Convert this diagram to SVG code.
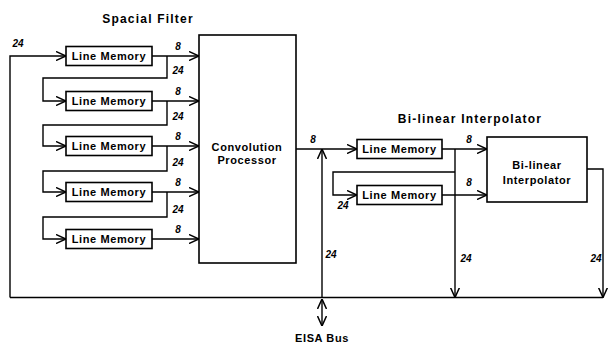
<svg xmlns="http://www.w3.org/2000/svg" width="608" height="347" viewBox="0 0 608 347">
<style>
.box{fill:#fff;stroke:#000;stroke-width:1.6}
.ln{fill:none;stroke:#000;stroke-width:1.4}
.t{font-family:"Liberation Sans",Arial,sans-serif;font-size:11px;font-weight:bold;letter-spacing:0.6px;text-anchor:middle;fill:#000}
.h{font-family:"Liberation Sans",Arial,sans-serif;font-size:12px;font-weight:bold;letter-spacing:1.2px;text-anchor:middle;fill:#000}
.n{font-family:"Liberation Sans",Arial,sans-serif;font-size:10px;font-weight:bold;font-style:italic;text-anchor:middle;fill:#000}
</style>
<defs>
<marker id="a" viewBox="0 0 10 10" refX="10" refY="5" markerWidth="10" markerHeight="10" markerUnits="userSpaceOnUse" orient="auto-start-reverse">
<path d="M0,0.5 L10,5 L0,9.5" fill="none" stroke="#000" stroke-width="1.5"/>
</marker>
</defs>
<rect width="608" height="347" fill="#fff"/>
<g id="connectors">
<path class="ln" d="M10,297.5 L603,297.5"/>
<path class="ln" d="M10,297.5 L10,56 L66,56" marker-end="url(#a)"/>
<path class="ln" d="M152,56 L199,56" marker-end="url(#a)"/>
<path class="ln" d="M152,101 L199,101" marker-end="url(#a)"/>
<path class="ln" d="M152,146 L199,146" marker-end="url(#a)"/>
<path class="ln" d="M152,192 L199,192" marker-end="url(#a)"/>
<path class="ln" d="M152,239 L199,239" marker-end="url(#a)"/>
<path class="ln" d="M167,56 L167,78 L43,78 L43,101 L66,101" marker-end="url(#a)"/>
<path class="ln" d="M167,101 L167,125 L43,125 L43,146 L66,146" marker-end="url(#a)"/>
<path class="ln" d="M167,146 L167,171 L43,171 L43,192 L66,192" marker-end="url(#a)"/>
<path class="ln" d="M167,192 L167,217 L43,217 L43,239 L66,239" marker-end="url(#a)"/>
<path class="ln" d="M296,149 L357,149" marker-end="url(#a)"/>
<path class="ln" d="M322,297.5 L322,149" marker-end="url(#a)"/>
<path class="ln" d="M322,299 L322,326" marker-start="url(#a)" marker-end="url(#a)"/>
<path class="ln" d="M442,149 L487,149" marker-end="url(#a)"/>
<path class="ln" d="M455,149 L455,297.5" marker-end="url(#a)"/>
<path class="ln" d="M455,172 L333,172 L333,195 L357,195" marker-end="url(#a)"/>
<path class="ln" d="M442,195 L487,195" marker-end="url(#a)"/>
<path class="ln" d="M587,169 L603,169 L603,297.5" marker-end="url(#a)"/>
</g>
<g id="lm1"><rect class="box" x="66" y="46.5" width="86" height="19"/><text class="t" x="109" y="60">Line Memory</text></g>
<g id="lm2"><rect class="box" x="66" y="91.5" width="86" height="19"/><text class="t" x="109" y="105">Line Memory</text></g>
<g id="lm3"><rect class="box" x="66" y="136.5" width="86" height="19"/><text class="t" x="109" y="150">Line Memory</text></g>
<g id="lm4"><rect class="box" x="66" y="182.5" width="86" height="19"/><text class="t" x="109" y="196">Line Memory</text></g>
<g id="lm5"><rect class="box" x="66" y="229.5" width="86" height="19"/><text class="t" x="109" y="243">Line Memory</text></g>
<g id="conv"><rect class="box" x="199" y="35" width="97" height="228"/><text class="t" x="247" y="151">Convolution</text><text class="t" x="247" y="164">Processor</text></g>
<g id="rlm1"><rect class="box" x="357" y="139.5" width="85" height="19"/><text class="t" x="399.5" y="153">Line Memory</text></g>
<g id="rlm2"><rect class="box" x="357" y="185.5" width="85" height="19"/><text class="t" x="399.5" y="199">Line Memory</text></g>
<g id="bilin"><rect class="box" x="487" y="137" width="100" height="65"/><text class="t" x="537" y="169">Bi-linear</text><text class="t" x="537" y="184">Interpolator</text></g>
<g id="labels">
<text class="h" x="148" y="23">Spacial Filter</text>
<text class="h" x="470" y="123">Bi-linear Interpolator</text>
<text class="t" x="322" y="342">EISA Bus</text>
<text class="n" x="18" y="47">24</text>
<text class="n" x="178" y="50">8</text>
<text class="n" x="178" y="74">24</text>
<text class="n" x="178" y="95">8</text>
<text class="n" x="178" y="120">24</text>
<text class="n" x="178" y="140">8</text>
<text class="n" x="178" y="166">24</text>
<text class="n" x="178" y="186">8</text>
<text class="n" x="178" y="213">24</text>
<text class="n" x="178" y="233">8</text>
<text class="n" x="313" y="143">8</text>
<text class="n" x="331" y="258">24</text>
<text class="n" x="343" y="209">24</text>
<text class="n" x="469" y="143">8</text>
<text class="n" x="469" y="186">8</text>
<text class="n" x="466" y="262">24</text>
<text class="n" x="596" y="262">24</text>
</g>
</svg>
